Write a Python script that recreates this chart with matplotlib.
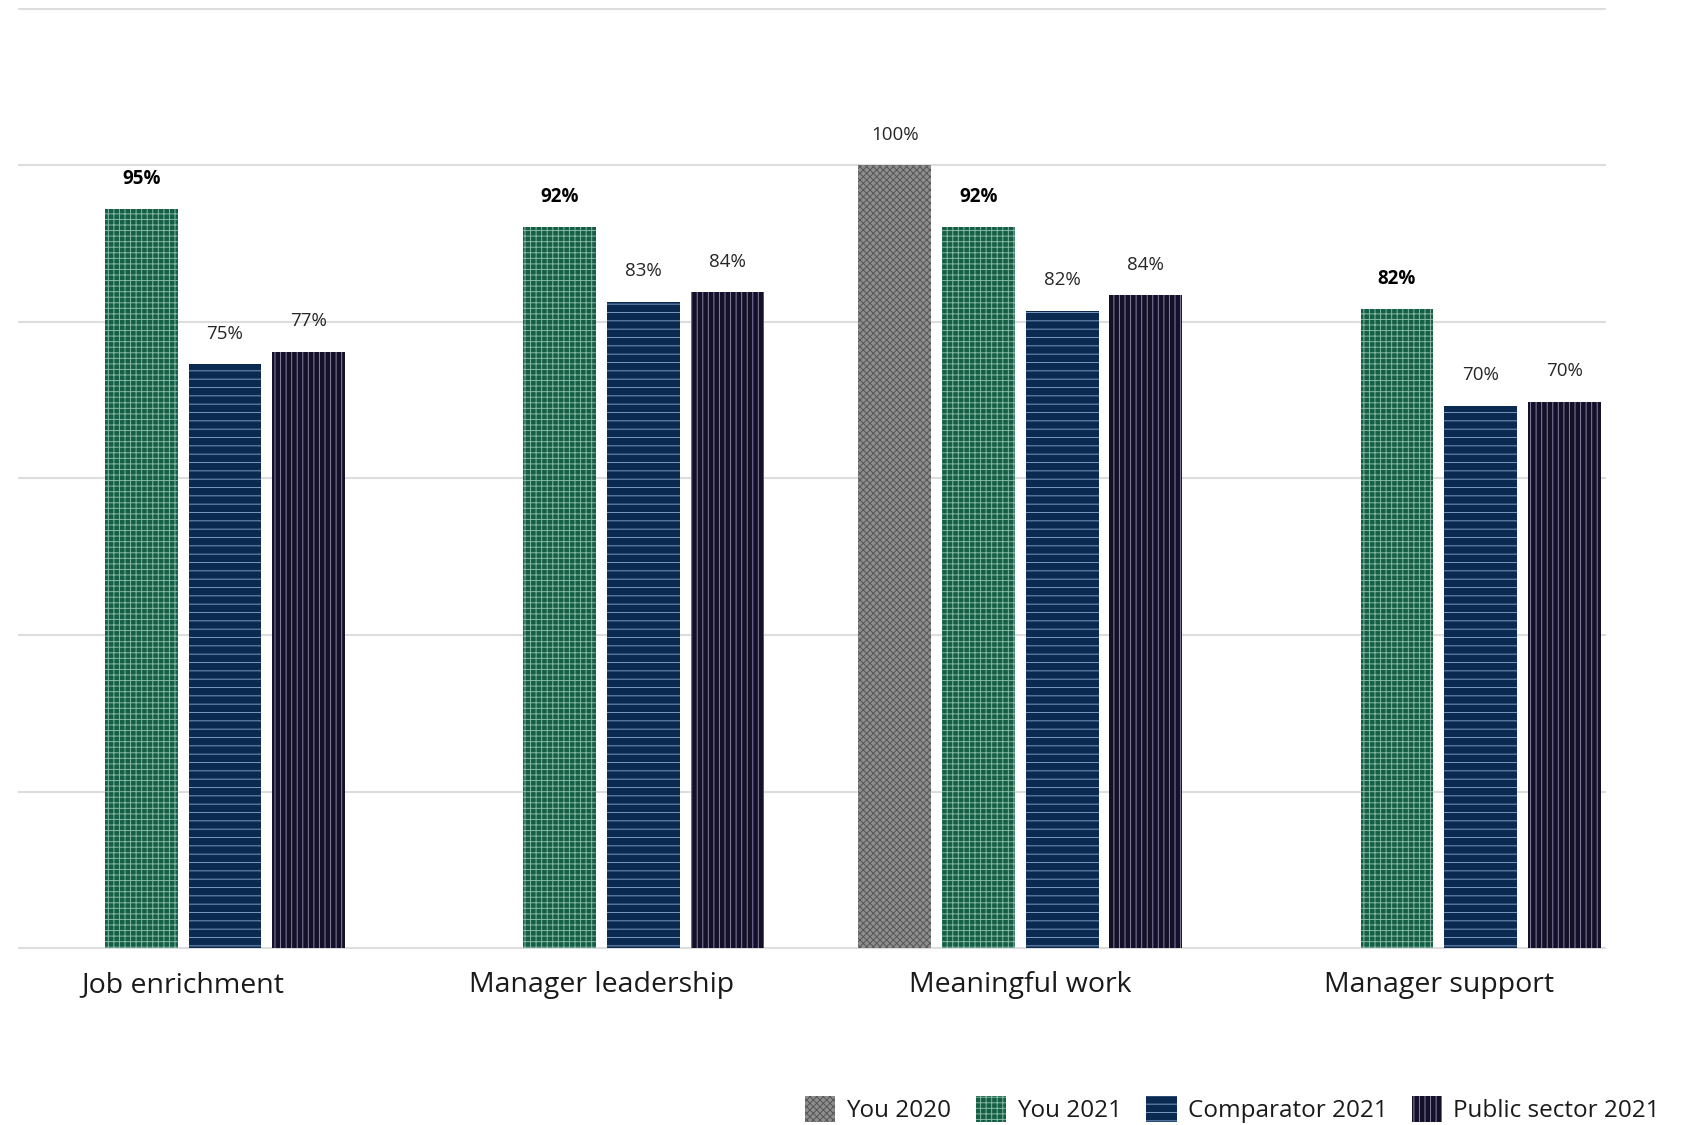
import numpy as np
import matplotlib.pyplot as plt

plt.rcParams['font.family'] = ['Open Sans', 'DejaVu Sans']
plt.rcParams['hatch.linewidth'] = 0.7

categories = ['Job enrichment', 'Manager leadership', 'Meaningful work', 'Manager support']
series = ['You 2020', 'You 2021', 'Comparator 2021', 'Public sector 2021']

you2020 = [None, None, 100, None]
you2021 = [94.4, 92.1, 92.1, 81.6]
comp2021 = [74.6, 82.6, 81.4, 69.3]
public2021 = [76.2, 83.8, 83.4, 69.8]

you2020_lab = [None, None, '100%', None]
you2021_lab = ['95%', '92%', '92%', '82%']
comp2021_lab = ['75%', '83%', '82%', '70%']
public2021_lab = ['77%', '84%', '84%', '70%']

values = [you2020, you2021, comp2021, public2021]
labels = [you2020_lab, you2021_lab, comp2021_lab, public2021_lab]
faces = ['#8e8e8e', '#145f45', '#0b2a52', '#131028']
hatch_cols = ['#555555', '#86b8a3', '#7b98bd', '#8782a6']
hatches = ['xxxxx', '+++', '--', '|||']
bold = [False, True, False, False]

fig = plt.figure(figsize=(16.9, 11.25), dpi=100)
ax = fig.add_axes([0.0108, 0.153, 0.9392, 0.842])

width = 0.87
for s in range(4):
    xs = []
    hs = []
    ls = []
    for g in range(len(categories)):
        if values[s][g] is None:
            continue
        xs.append(g * 5 + s)
        hs.append(values[s][g])
        ls.append(labels[s][g])
    bars = ax.bar(xs, hs, width=width, color=faces[s], edgecolor=hatch_cols[s],
                  linewidth=0, hatch=hatches[s], label=series[s], zorder=3)
    for b, t in zip(bars, ls):
        ax.annotate(t, (b.get_x() + b.get_width() / 2, b.get_height()),
                    xytext=(0, 22), textcoords='offset points',
                    ha='center', va='center', fontsize=13.5,
                    fontweight='bold' if bold[s] else 'normal',
                    color='#000000' if bold[s] else '#262626')

ax.set_xlim(-0.47, 18.49)
ax.set_ylim(-0.6, 120.4)
ax.set_yticks(np.arange(0, 121, 20))
ax.set_yticklabels([])
ax.set_xticks([g * 5 + 1.5 for g in range(len(categories))])
ax.set_xticklabels(categories, fontsize=20.5, color='#1a1a1a')
ax.tick_params(axis='both', length=0)
ax.tick_params(axis='x', pad=13)
ax.grid(axis='y', color='#dddddd', linewidth=1.5, zorder=0)
for sp in ax.spines.values():
    sp.set_visible(False)

fig.legend(loc='lower right', bbox_to_anchor=(0.995, -0.018), ncol=4, frameon=False,
           fontsize=17.5, handlelength=1.25, handleheight=1.25, handletextpad=0.45,
           columnspacing=1.0, labelcolor='#1a1a1a')

fig.savefig('out.png', dpi=100)
